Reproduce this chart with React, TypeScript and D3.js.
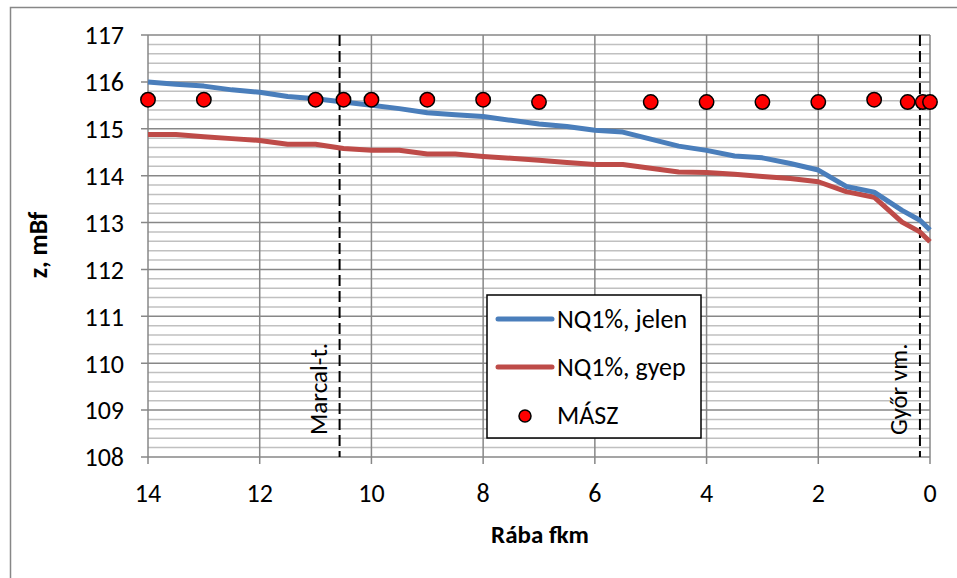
import React from "react";
import * as d3 from "d3";

const kmLine = [14, 13.5, 13, 12.5, 12, 11.5, 11, 10.5, 10, 9.5, 9, 8.5, 8, 7.5, 7, 6.5, 6, 5.5, 5, 4.5, 4, 3.5, 3, 2.5, 2, 1.5, 1, 0.5, 0.18, 0];
const zJelen = [116.0, 115.95, 115.91, 115.83, 115.78, 115.69, 115.64, 115.57, 115.5, 115.43, 115.34, 115.3, 115.26, 115.18, 115.1, 115.05, 114.97, 114.93, 114.78, 114.63, 114.54, 114.42, 114.38, 114.26, 114.12, 113.77, 113.65, 113.26, 113.05, 112.84];
const zGyep = [114.88, 114.88, 114.83, 114.79, 114.75, 114.67, 114.67, 114.58, 114.54, 114.54, 114.46, 114.46, 114.41, 114.37, 114.33, 114.28, 114.24, 114.24, 114.16, 114.08, 114.07, 114.03, 113.98, 113.94, 113.87, 113.66, 113.54, 113.01, 112.8, 112.59];
const kmMasz = [14, 13, 11, 10.5, 10, 9, 8, 7, 5, 4, 3, 2, 1, 0.4, 0.13, 0];
const zMasz = [115.62, 115.62, 115.62, 115.62, 115.62, 115.62, 115.62, 115.57, 115.57, 115.57, 115.57, 115.57, 115.62, 115.57, 115.57, 115.57];
const xTicks = [14, 12, 10, 8, 6, 4, 2, 0];
const yTicks = [108, 109, 110, 111, 112, 113, 114, 115, 116, 117];
const refKm = [10.57, 0.18];
const refLabels = ["Marcal-t.", "Győr vm."];
const seriesNames = ["NQ1%, jelen", "NQ1%, gyep", "MÁSZ"];

const FONT = "Carlito, Lato, 'Liberation Sans', sans-serif";

export default function App() {
  const W = 957, H = 578;
  const x = d3.scaleLinear().domain([14, 0]).range([148, 930]);
  const y = d3.scaleLinear().domain([108, 117]).range([457, 35]);
  const minor = d3.range(108, 117.0001, 0.2).filter((v) => Math.abs(v - Math.round(v)) > 0.01);
  const line = d3.line<number>().x((_, i) => x(kmLine[i])).y((d) => y(d));
  const blue = "#4A7EBB";
  const red = "#BE4B48";
  const [x0, x1] = x.range();
  const [yb, yt] = y.range();

  return (
    <svg width={W} height={H} style={{ position: "absolute", left: 0, top: 0, background: "#fff" }} fontFamily={FONT}>
      <rect x={10.5} y={7.5} width={1000} height={700} fill="#fff" stroke="#878787" strokeWidth={1.5} />
      {minor.map((v, i) => (
        <line key={"mn" + i} x1={x0} x2={x1} y1={y(v)} y2={y(v)} stroke="#C0C0C0" strokeWidth={1.5} />
      ))}
      {yTicks.map((v) => (
        <line key={"mj" + v} x1={x0 - 7} x2={x1} y1={y(v)} y2={y(v)} stroke="#878787" strokeWidth={1.5} />
      ))}
      {xTicks.map((v) => (
        <line key={"vx" + v} x1={x(v)} x2={x(v)} y1={yt} y2={yb + 7} stroke="#878787" strokeWidth={1.5} />
      ))}
      {yTicks.map((v) => (
        <text key={"yt" + v} x={124} y={y(v)} dy="0.36em" textAnchor="end" fontSize={26} fill="#000">
          {v}
        </text>
      ))}
      {xTicks.map((v) => (
        <text key={"xt" + v} x={x(v)} y={502} textAnchor="middle" fontSize={26} fill="#000">
          {v}
        </text>
      ))}
      <text x={540} y={543} textAnchor="middle" fontSize={25} fontWeight="bold">Rába  fkm</text>
      <text transform={`translate(47,245) rotate(-90)`} textAnchor="middle" fontSize={26} fontWeight="bold">z, mBf</text>

      {refKm.map((k, i) => (
        <g key={"ref" + i}>
          <line x1={x(k)} x2={x(k)} y1={yt} y2={yb} stroke="#000" strokeWidth={2} strokeDasharray="11,5" />
          <text transform={`translate(${x(k) - 13},${yb - 22}) rotate(-90)`} fontSize={25} fill="#000">
            {refLabels[i]}
          </text>
        </g>
      ))}

      <path d={line(zGyep) || ""} fill="none" stroke={red} strokeWidth={5} strokeLinejoin="round" />
      <path d={line(zJelen) || ""} fill="none" stroke={blue} strokeWidth={5} strokeLinejoin="round" />
      {kmMasz.map((k, i) => (
        <circle key={"m" + i} cx={x(k)} cy={y(zMasz[i])} r={7.2} fill="#FF0000" stroke="#000" strokeWidth={1.5} />
      ))}

      <g>
        <rect x={487} y={295} width={214} height={143} fill="#fff" stroke="#000" strokeWidth={1.5} />
        <line x1={498} x2={552} y1={319} y2={319} stroke={blue} strokeWidth={5} strokeLinecap="round" />
        <line x1={498} x2={552} y1={367} y2={367} stroke={red} strokeWidth={5} strokeLinecap="round" />
        <circle cx={525} cy={416} r={6} fill="#FF0000" stroke="#000" strokeWidth={1.5} />
        {seriesNames.map((s, i) => (
          <text key={s} x={557} y={319 + i * 48} dy="0.36em" fontSize={26} fill="#000">
            {s}
          </text>
        ))}
      </g>
    </svg>
  );
}
